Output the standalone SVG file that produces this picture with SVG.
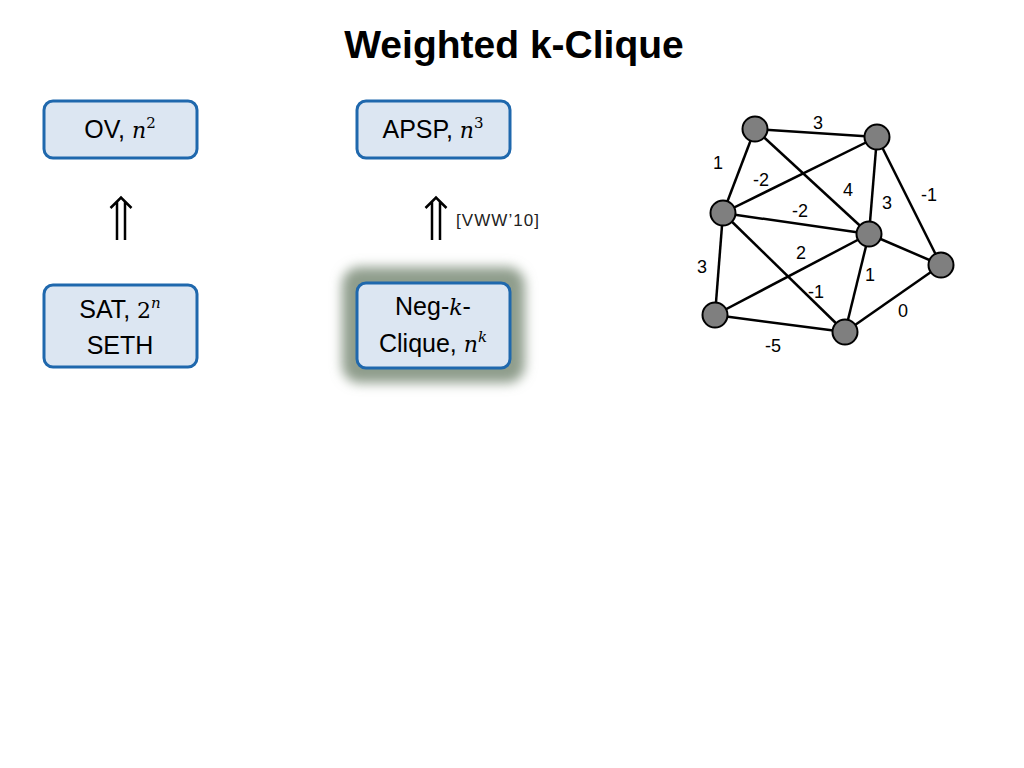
<svg xmlns="http://www.w3.org/2000/svg" width="1024" height="768" viewBox="0 0 1024 768">
<defs>
<style>
.box{fill:#dce6f2;stroke:#1f68ad;stroke-width:3}
.t{font-family:"Liberation Sans",Arial,sans-serif;font-size:25px;fill:#000;text-anchor:middle}
.m{font-family:"DejaVu Serif","Liberation Serif",serif;font-style:italic;font-size:22px}
.r{font-family:"DejaVu Serif","Liberation Serif",serif;font-size:22px}
.s{font-family:"DejaVu Serif","Liberation Serif",serif;font-size:15px}
.si{font-family:"DejaVu Serif","Liberation Serif",serif;font-style:italic;font-size:15px}
.e{stroke:#000;stroke-width:2.5;fill:none}
.n{fill:#7f7f7f;stroke:#000;stroke-width:2}
.w{font-family:"Liberation Sans",Arial,sans-serif;font-size:18px;fill:#000;text-anchor:middle}
.arr{stroke:#000;stroke-width:2.5;fill:none}
</style>
<filter id="glow" x="-40%" y="-40%" width="180%" height="180%">
<feGaussianBlur stdDeviation="6"/>
</filter>
</defs>
<rect width="1024" height="768" fill="#fff"/>
<text x="514" y="58" font-family="Liberation Sans,Arial,sans-serif" font-size="39" font-weight="bold" text-anchor="middle">Weighted k-Clique</text>

<g id="connectors">
<path class="arr" d="M117 201V240M125 201V240M110.5 208L121 197.5L131.5 208"/>
<path class="arr" d="M432 201V240M440 201V240M425.5 208L436 197.5L446.5 208"/>
<text x="456" y="226" font-family="Liberation Sans,Arial,sans-serif" font-size="17" fill="#222" textLength="83">[VWW’10]</text>
</g>

<g id="ov">
<rect class="box" x="44" y="101" width="153" height="57" rx="9"/>
<text class="t" x="120" y="138">OV, <tspan class="m">n</tspan><tspan class="s" dy="-10">2</tspan></text>
</g>
<g id="apsp">
<rect class="box" x="357" y="101" width="153" height="57" rx="9"/>
<text class="t" x="433" y="138">APSP, <tspan class="m">n</tspan><tspan class="s" dy="-10">3</tspan></text>
</g>
<g id="sat">
<rect class="box" x="44" y="285" width="153" height="82" rx="9"/>
<text class="t" x="120" y="318">SAT, <tspan class="r">2</tspan><tspan class="si" dy="-10">n</tspan></text>
<text class="t" x="120" y="354">SETH</text>
</g>
<g id="negk">
<rect x="342" y="267" width="183" height="116" rx="18" fill="#8f9d8c" filter="url(#glow)"/>
<rect class="box" x="357" y="283" width="153" height="85" rx="9"/>
<text class="t" x="433" y="315">Neg-<tspan class="m">k</tspan>-</text>
<text class="t" x="433" y="352">Clique, <tspan class="m">n</tspan><tspan class="si" dy="-10">k</tspan></text>
</g>

<g id="graph">
<g id="graph-edges">
<line class="e" x1="755" y1="129" x2="877" y2="137"/>
<line class="e" x1="755" y1="129" x2="723" y2="213"/>
<line class="e" x1="755" y1="129" x2="869" y2="234"/>
<line class="e" x1="877" y1="137" x2="723" y2="213"/>
<line class="e" x1="877" y1="137" x2="869" y2="234"/>
<line class="e" x1="877" y1="137" x2="941" y2="265"/>
<line class="e" x1="723" y1="213" x2="869" y2="234"/>
<line class="e" x1="723" y1="213" x2="715" y2="315"/>
<line class="e" x1="723" y1="213" x2="845" y2="332"/>
<line class="e" x1="869" y1="234" x2="715" y2="315"/>
<line class="e" x1="869" y1="234" x2="941" y2="265"/>
<line class="e" x1="869" y1="234" x2="845" y2="332"/>
<line class="e" x1="941" y1="265" x2="845" y2="332"/>
<line class="e" x1="715" y1="315" x2="845" y2="332"/>
</g>
<g id="graph-nodes">
<circle class="n" cx="755" cy="129" r="12.5"/>
<circle class="n" cx="877" cy="137" r="12.5"/>
<circle class="n" cx="723" cy="213" r="12.5"/>
<circle class="n" cx="869" cy="234" r="12.5"/>
<circle class="n" cx="941" cy="265" r="12.5"/>
<circle class="n" cx="715" cy="315" r="12.5"/>
<circle class="n" cx="845" cy="332" r="12.5"/>
</g>
<g id="weights">
<text class="w" x="818" y="129">3</text>
<text class="w" x="718" y="169">1</text>
<text class="w" x="761" y="186">-2</text>
<text class="w" x="848" y="196">4</text>
<text class="w" x="887" y="209">3</text>
<text class="w" x="929" y="201">-1</text>
<text class="w" x="800" y="217">-2</text>
<text class="w" x="801" y="259">2</text>
<text class="w" x="702" y="273">3</text>
<text class="w" x="870" y="281">1</text>
<text class="w" x="816" y="298">-1</text>
<text class="w" x="903" y="317">0</text>
<text class="w" x="773" y="352">-5</text>
</g>
</g>
</svg>
